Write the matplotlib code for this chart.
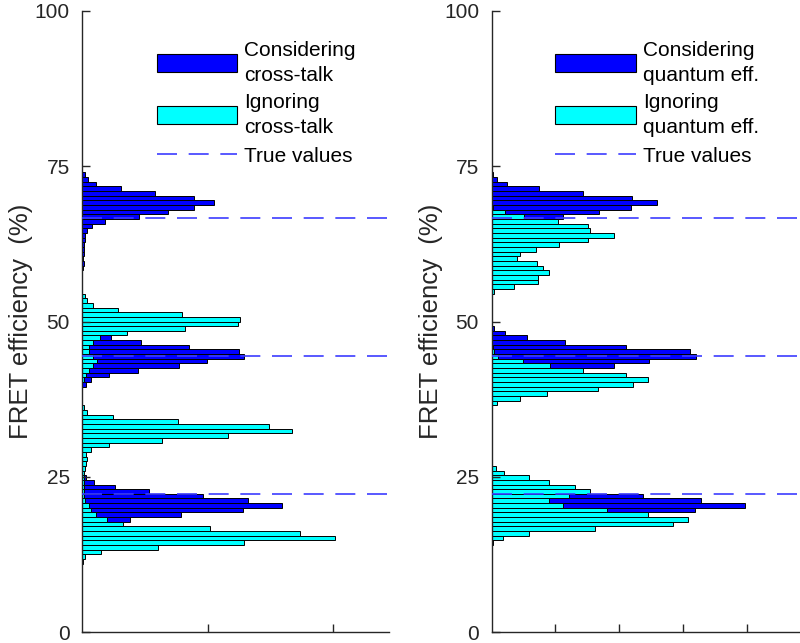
import numpy as np
import matplotlib
matplotlib.use("Agg")
import matplotlib.pyplot as plt
from matplotlib.patches import Patch
from matplotlib.lines import Line2D

plt.rcParams['font.family'] = ['Liberation Sans', 'DejaVu Sans']

# histogram bins (FRET efficiency, %)
BIN_W = 0.75
TRUE_VALUES = [22.22, 44.44, 66.67]

# each cluster: (lower edge of first bin, counts per bin)
# left panel - cross-talk
left_blue_lo = (17.0, [8, 19, 39.5, 64.2, 79.8, 66.3, 48.1, 26.5, 13, 4.7, 1.5])
left_blue_mid = (39.5, [1.4, 3.6, 10.6, 22.2, 38.4, 49.9, 64.6, 62.6, 42.4, 23.5, 11.3, 4, 1.5])
left_blue_hi = (58.25, [0.4, 0.6, 0.4, 0.8, 0.5, 0.6, 1.0, 1.2, 1.7, 4.0, 9.0, 22.7, 34.2,
                        44.4, 52.6, 44.6, 29.2, 15.3, 5.4, 2.1, 1.0])
left_cyan_lo = (11.0, [0.4, 1, 7.3, 30.4, 64.6, 101, 86.7, 51, 16.2, 9.7, 5.4, 3.4, 2.7, 1,
                       0.8, 0.6, 0.8, 0.6, 0.8, 0.8, 1, 1.4, 1.8, 1.4, 3.6, 10.6, 31.8, 58,
                       83.7, 74.5, 38, 12.4, 1.8, 0.5])
left_cyan_mid = (40.25, [0.6, 1.4, 2.7, 4.3, 6, 4.3, 2.7, 2.7, 4.3, 7, 17.9, 41.1, 62.2,
                         62.9, 39.8, 14.4, 4.4, 2, 1])

# right panel - quantum efficiency
right_blue_lo = (17.75, [20, 70, 159.1, 198.2, 164.1, 118.7, 45, 15, 4, 1.5])
right_blue_mid = (41.0, [12, 40, 95.7, 123.6, 160.4, 155.2, 105.6, 57.9, 27.4, 10.2, 2.3])
right_blue_hi = (65.0, [6, 22, 56, 84, 109.3, 129.6, 110, 71.5, 37, 12.3, 4.4, 1])
right_cyan_lo = (14.0, [1, 9.2, 29.7, 81.4, 141.9, 153.6, 122.3, 90.5, 56.1, 44.9, 60.5,
                        76.9, 65.7, 44.9, 29.2, 9.6, 3.6])
right_cyan_mid = (35.75, [0.5, 4.4, 22.2, 43.6, 83.5, 110.6, 122.3, 105.6, 71.5, 45.6,
                          24.8, 4.9, 2.3, 1])
right_cyan_hi = (54.5, [2.3, 17.5, 36.3, 36.3, 45.1, 40.2, 35.7, 19.6, 22.2, 35, 52.7, 75.4,
                        95.7, 77.5, 75.4, 51.9, 25.3, 10.4, 1.3])

panels = [
    {'blue': [left_blue_lo, left_blue_mid, left_blue_hi],
     'cyan': [left_cyan_lo, left_cyan_mid],
     'labels': ['Considering\ncross-talk', 'Ignoring\ncross-talk'],
     'xticks': [50, 100], 'xmax': 122.5,
     'rect': [0.1029, 0.0171, 0.3836, 0.9658], 'leg_x': 0.244},
    {'blue': [right_blue_lo, right_blue_mid, right_blue_hi],
     'cyan': [right_cyan_lo, right_cyan_mid, right_cyan_hi],
     'labels': ['Considering\nquantum eff.', 'Ignoring\nquantum eff.'],
     'xticks': [50, 100, 150, 200], 'xmax': 240.5,
     'rect': [0.6144, 0.0171, 0.3839, 0.9658], 'leg_x': 0.208},
]

BLUE = '#0000ff'
CYAN = '#00ffff'
DASH = '#3c3cff'
AX_COL = '#262626'
FS = 15


def draw_hist(ax, clusters, color):
    for start, counts in clusters:
        centers = start + BIN_W * (np.arange(len(counts)) + 0.5)
        ax.barh(centers, counts, height=BIN_W, color=color,
                edgecolor='black', linewidth=0.7)


fig = plt.figure(figsize=(8, 6.43), dpi=100)

for p in panels:
    ax = fig.add_axes(p['rect'])
    draw_hist(ax, p['blue'], BLUE)
    draw_hist(ax, p['cyan'], CYAN)
    for tv in TRUE_VALUES:
        ax.axhline(tv, color=DASH, linestyle=(0, (12, 7)), linewidth=1.2, zorder=5)

    ax.set_xlim(0, p['xmax'])
    ax.set_ylim(0, 100)
    ax.set_yticks([0, 25, 50, 75, 100])
    ax.set_xticks(p['xticks'])
    ax.set_xticklabels([])
    ax.tick_params(direction='in', length=6, width=1, colors=AX_COL,
                   labelsize=FS, pad=9)
    for s in ['top', 'right']:
        ax.spines[s].set_visible(False)
    for s in ['left', 'bottom']:
        ax.spines[s].set_color(AX_COL)
        ax.spines[s].set_linewidth(1.0)
    ax.set_ylabel('FRET efficiency  (%)', fontsize=18.5, color=AX_COL, labelpad=1)

    handles = [Patch(facecolor=BLUE, edgecolor='black', linewidth=0.8),
               Patch(facecolor=CYAN, edgecolor='black', linewidth=0.8),
               Line2D([], [], color=DASH, linestyle=(0, (12, 7)), linewidth=1.2)]
    leg = ax.legend(handles, p['labels'] + ['True values'], loc='upper left',
                    bbox_to_anchor=(p['leg_x'], 0.951), frameon=False, fontsize=FS,
                    handlelength=3.85, handleheight=0.96, handletextpad=0.34,
                    labelspacing=0.42, borderpad=0, borderaxespad=0)
    for t in leg.get_texts():
        t.set_linespacing(1.35)

fig.savefig('out.png', dpi=100)
